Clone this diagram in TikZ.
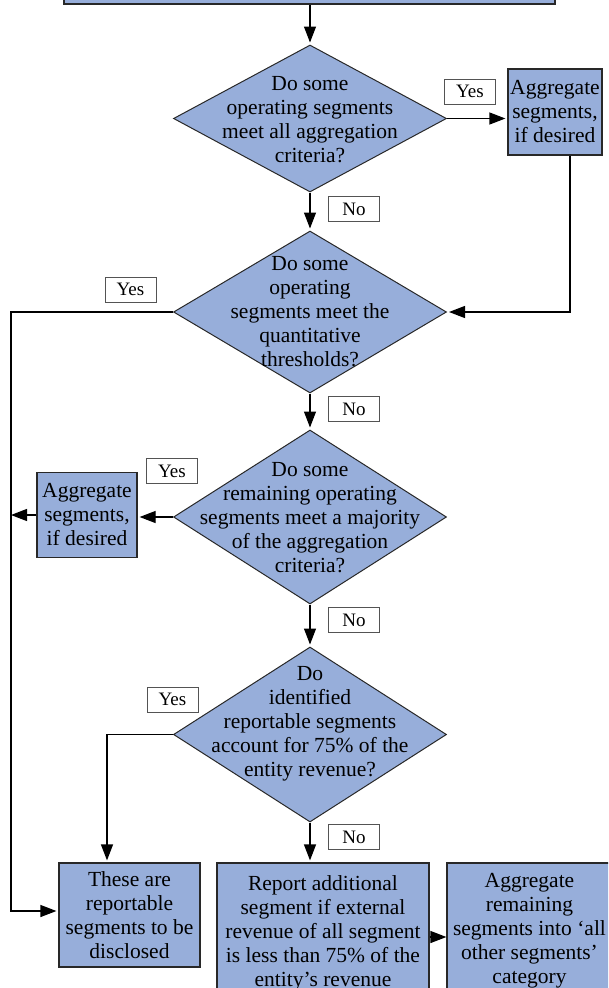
\documentclass[tikz,border=0pt]{standalone}
\usepackage{fontspec}
\setmainfont{Liberation Serif}
\usetikzlibrary{shapes.geometric,arrows.meta}
\definecolor{boxblue}{RGB}{151,174,218}
\definecolor{edgec}{RGB}{40,40,40}
\begin{document}
\begin{tikzpicture}[x=1pt,y=-1pt,
  txt/.style={font=\fontsize{21.5}{24}\selectfont, align=center, inner sep=0pt},
  dia/.style={diamond, draw=edgec, fill=boxblue, line width=1pt, minimum width=273pt, inner sep=0pt},
  blk/.style={rectangle, draw=edgec, fill=boxblue, line width=1.2pt, inner sep=0pt, align=center, font=\fontsize{21.5}{24}\selectfont},
  lab/.style={rectangle, draw=edgec!80, fill=white, line width=0.8pt, inner sep=0pt, minimum width=51pt, minimum height=25pt, font=\fontsize{19}{22}\selectfont},
  arr/.style={draw=black, line width=1.2pt, shorten >=2pt, -{Triangle[length=16pt,width=12pt]}}]
\useasboundingbox (0,0) rectangle (608,988);
\clip (0,0) rectangle (608,988);

\node[blk, minimum width=491pt, minimum height=60pt] (top) at (309.5,-26) {};

\node[dia, minimum height=147pt] (d1) at (310,118.5) {};
\node[txt] (t1) at (310,120) {Do some\\operating segments\\meet all aggregation\\criteria?};
\node[blk, minimum width=94pt, minimum height=86pt] (a1) at (555,112) {Aggregate\\segments,\\if desired};

\node[dia, minimum height=162pt] (d2) at (310,312) {};
\node[txt] (t2) at (310,312) {Do some\\operating\\segments meet the\\quantitative\\thresholds?};

\node[dia, minimum height=174pt] (d3) at (310,517) {};
\node[txt] (t3) at (310,518) {Do some\\remaining operating\\segments meet a majority\\of the aggregation\\criteria?};
\node[blk, minimum width=100pt, minimum height=85pt] (a2) at (87,515) {Aggregate\\segments,\\if desired};

\node[dia, minimum height=175pt] (d4) at (310,734.5) {};
\node[txt] (t4) at (310,724) {Do\\identified\\reportable segments\\account for 75\% of the\\entity revenue?};

\node[blk, minimum width=141pt, minimum height=104pt] (rep) at (129.5,915) {These are\\reportable\\segments to be\\disclosed};
\node[blk, minimum width=212pt, minimum height=140pt] (add) at (323,933) {Report additional\\segment if external\\revenue of all segment\\is less than 75\% of the\\entity’s revenue};
\node[blk, minimum width=165pt, minimum height=136pt] (oth) at (529.5,931) {Aggregate\\remaining\\segments into ‘all\\other segments’\\category};

\node[lab] (y1) at (470,91.5) {Yes};
\node[lab] (n1) at (354,209) {No};
\node[lab] (y2) at (130.5,289.5) {Yes};
\node[lab] (n2) at (354,409) {No};
\node[lab] (y3) at (172,471) {Yes};
\node[lab] (n3) at (354,620) {No};
\node[lab] (y4) at (172.5,699.5) {Yes};
\node[lab] (n4) at (354,837) {No};

\coordinate (lx) at (11,0);
\coordinate (repin) at ([yshift=4pt]rep.west);
\coordinate (addout) at ([yshift=-4pt]add.east);
\draw[arr] (d1.north |- top.south) -- (d1.north);
\draw[arr] (d1.east) -- (d1.east -| a1.west);
\draw[arr] (d1.south) -- (d2.north);
\draw[arr] ([xshift=15pt]a1.south) |- (d2.east);
\draw[arr] (d2.west) -| (lx |- repin) -- (repin);
\draw[arr] (d2.south) -- (d3.north);
\draw[arr] (d3.west) -- (d3.west -| a2.east);
\draw[arr, shorten >=0pt] (a2.west) -- (a2.west -| lx);
\draw[arr] (d3.south) -- (d4.north);
\draw[arr] (d4.west) -| ([xshift=-22.5pt]rep.north);
\draw[arr] (d4.south) -- (d4.south |- add.north);
\draw[arr, shorten >=0pt] (addout) -- (addout -| oth.west);
\end{tikzpicture}
\end{document}
